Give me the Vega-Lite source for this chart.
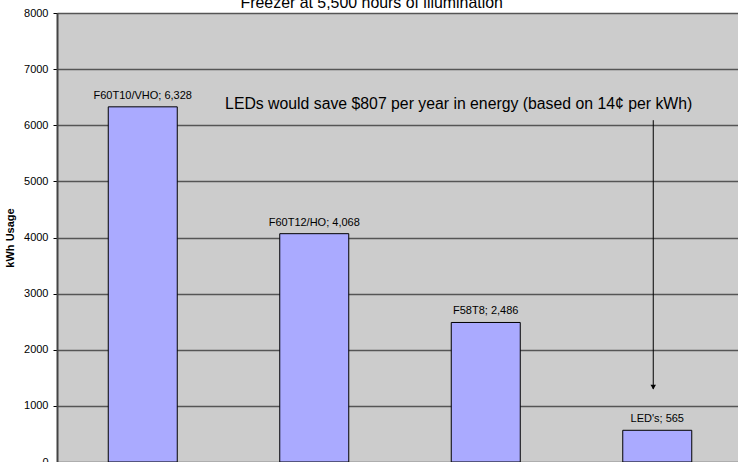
{
  "$schema": "https://vega.github.io/schema/vega-lite/v6.json",
  "autosize": {"type": "none"},
  "padding": {"left": 57, "top": 13, "right": 0, "bottom": 0},
  "width": 686,
  "height": 449,
  "background": "white",
  "config": {
    "font": "Liberation Sans",
    "view": {"fill": "#CCCCCC", "stroke": "#888888", "strokeWidth": 1}
  },
  "title": {
    "text": "Freezer at 5,500 hours of illumination",
    "fontSize": 15.9,
    "fontWeight": "normal",
    "font": "Liberation Sans",
    "color": "#000000",
    "anchor": "start",
    "dx": 236,
    "baseline": "alphabetic",
    "offset": 0,
    "dy": 17
  },
  "datasets": {
    "bars": [
      {"lamp": "F60T10/VHO", "kwh": 6328, "label": "F60T10/VHO; 6,328"},
      {"lamp": "F60T12/HO", "kwh": 4068, "label": "F60T12/HO; 4,068"},
      {"lamp": "F58T8", "kwh": 2486, "label": "F58T8; 2,486"},
      {"lamp": "LED's", "kwh": 565, "label": "LED's; 565"}
    ],
    "note": [
      {"lamp": "LED's", "y": 6380, "ystart": 6090, "yend": 1300, "text": "LEDs would save $807 per year in energy (based on 14¢ per kWh)"}
    ]
  },
  "layer": [
    {
      "data": {"name": "bars"},
      "mark": {"type": "bar", "fill": "#AAAAFF", "stroke": "#000000", "strokeWidth": 1, "width": 69},
      "encoding": {
        "x": {"field": "lamp", "type": "nominal", "sort": null, "scale": {"paddingInner": 0, "paddingOuter": 0},
              "axis": null},
        "y": {"field": "kwh", "type": "quantitative",
              "scale": {"domain": [0, 8000], "nice": false},
              "axis": {
                "title": "kWh Usage", "titleFontSize": 11, "titleFontWeight": "bold", "titleColor": "#000000",
                "titlePadding": 8,
                "values": [0, 1000, 2000, 3000, 4000, 5000, 6000, 7000, 8000],
                "format": "d",
                "labelFontSize": 11, "labelColor": "#000000", "labelPadding": 5,
                "tickSize": 4, "tickColor": "#000000", "tickWidth": 1,
                "domainColor": "#444444", "domainWidth": 2,
                "grid": true, "gridColor": "#555555", "gridWidth": 1.3,
                "zindex": 0
              }}
      }
    },
    {
      "data": {"name": "bars"},
      "mark": {"type": "text", "fontSize": 11, "color": "#000000", "baseline": "alphabetic", "dy": -8},
      "encoding": {
        "x": {"field": "lamp", "type": "nominal", "sort": null},
        "y": {"field": "kwh", "type": "quantitative"},
        "text": {"field": "label"}
      }
    },
    {
      "data": {"name": "note"},
      "mark": {"type": "text", "fontSize": 15.8, "color": "#000000", "align": "right", "baseline": "middle", "dx": 35},
      "encoding": {
        "x": {"field": "lamp", "type": "nominal", "sort": null},
        "y": {"field": "y", "type": "quantitative"},
        "text": {"field": "text"}
      }
    },
    {
      "data": {"name": "note"},
      "mark": {"type": "rule", "color": "#000000", "strokeWidth": 1, "xOffset": -4},
      "encoding": {
        "x": {"field": "lamp", "type": "nominal", "sort": null},
        "y": {"field": "ystart", "type": "quantitative"},
        "y2": {"field": "yend"}
      }
    },
    {
      "data": {"name": "note"},
      "mark": {"type": "point", "shape": "triangle-down", "filled": true, "color": "#000000", "size": 30, "xOffset": -4, "yOffset": -2, "opacity": 1},
      "encoding": {
        "x": {"field": "lamp", "type": "nominal", "sort": null},
        "y": {"field": "yend", "type": "quantitative"}
      }
    }
  ]
}
